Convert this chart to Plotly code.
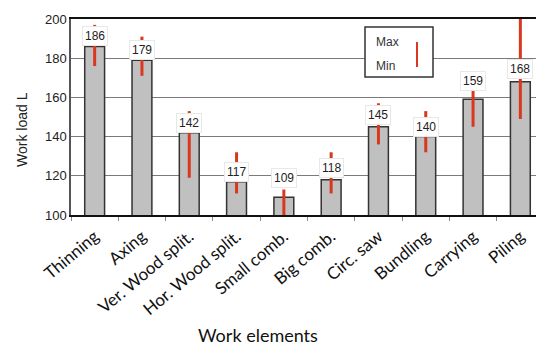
import plotly.graph_objects as go

categories = ["Thinning", "Axing", "Ver. Wood split.", "Hor. Wood split.", "Small comb.",
              "Big comb.", "Circ. saw", "Bundling", "Carrying", "Piling"]
work_load = [186, 179, 142, 117, 109, 118, 145, 140, 159, 168]
max_vals = [197, 191, 153, 132, 113, 132, 157, 153, 166, 200]
min_vals = [176, 171, 119, 111, 100, 111, 136, 132, 145, 149]
y_ticks = [100, 120, 140, 160, 180, 200]

label_shift = [0, 0, 0, 0, 9, 2, 2, 0, 8, 3]

RED = "#d9381e"

fig = go.Figure()
fig.add_trace(go.Bar(
    x=categories, y=work_load, width=0.42,
    marker=dict(color="#c0c0c0", line=dict(color="#333333", width=1.5)),
    error_y=dict(type="data", symmetric=False,
                 array=[mx - v for mx, v in zip(max_vals, work_load)],
                 arrayminus=[v - mn for v, mn in zip(work_load, min_vals)],
                 color=RED, thickness=3, width=0),
    showlegend=False, hoverinfo="skip"))

annotations = []
for c, v, s in zip(categories, work_load, label_shift):
    annotations.append(dict(x=c, y=v, xref="x", yref="y", text=str(v), showarrow=False,
                            yanchor="bottom", yshift=s, bgcolor="white",
                            bordercolor="#e8e8e8", borderwidth=1, borderpad=2,
                            font=dict(family="Liberation Sans, Arial", size=12, color="#222")))

# page body has an 8px margin: figure drawn at offset (8, 8) in the window
OFF = 8
W, H = 544 - OFF, 345 - OFF
L, R, T, B = 71 - OFF, 0, 19 - OFF, 345 - 215
pw, ph = W - L - R, H - T - B
def px(x): return (x - OFF - L) / pw
def py(y): return (H - B - (y - OFF)) / ph

# legend box texts
annotations.append(dict(x=px(374), y=py(42), xref="paper", yref="paper", text="Max", showarrow=False,
                        xanchor="left", yanchor="middle",
                        font=dict(family="Liberation Sans, Arial", size=12, color="#333")))
annotations.append(dict(x=px(374), y=py(66), xref="paper", yref="paper", text="Min", showarrow=False,
                        xanchor="left", yanchor="middle",
                        font=dict(family="Liberation Sans, Arial", size=12, color="#333")))
# axis titles
annotations.append(dict(x=px(258), y=py(335), xref="paper", yref="paper", text="Work elements",
                        showarrow=False, xanchor="center", yanchor="middle",
                        font=dict(family="Lato, Open Sans", size=18, color="#111")))
annotations.append(dict(x=px(22), y=py(130), xref="paper", yref="paper", text="Work load L",
                        showarrow=False, textangle=-90, xanchor="center", yanchor="middle",
                        font=dict(family="Liberation Sans, Arial", size=14, color="#222")))

shapes = [
    dict(type="rect", xref="paper", yref="paper", x0=px(365), x1=px(433), y0=py(77), y1=py(27),
         fillcolor="white", line=dict(color="#333", width=1.5), layer="above"),
    dict(type="line", xref="paper", yref="paper", x0=px(417), x1=px(417), y0=py(67), y1=py(42),
         line=dict(color=RED, width=2), layer="above"),
]

fig.update_layout(
    width=W, height=H, margin=dict(l=L, r=R, t=T, b=B, autoexpand=False),
    paper_bgcolor="white", plot_bgcolor="white",
    annotations=annotations, shapes=shapes,
    xaxis=dict(tickangle=-40, tickson="boundaries", ticks="outside", ticklen=4, tickcolor="#888",
               showline=True, linecolor="#111", linewidth=2, mirror=True, automargin=False,
               ticklabelstandoff=3,
               tickfont=dict(family="Lato, Open Sans", size=17, color="#111"),
               showgrid=False),
    yaxis=dict(range=[100, 200], tickvals=y_ticks, showgrid=True, gridcolor="#7a7a7a", gridwidth=1,
               showline=True, linecolor="#555", linewidth=1.5, ticks="", zeroline=False,
               automargin=False,
               tickfont=dict(family="Liberation Sans, Arial", size=13, color="#222")),
)

fig.write_html("out.html")
